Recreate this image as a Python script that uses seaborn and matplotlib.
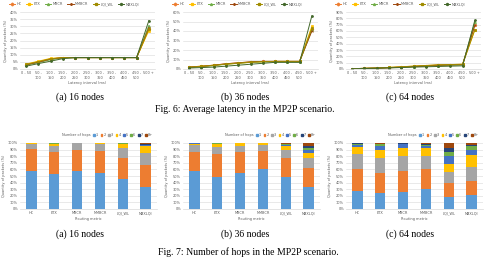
import numpy as np
import pandas as pd
import matplotlib
matplotlib.use("Agg")
import matplotlib.pyplot as plt
import seaborn as sns
from matplotlib.lines import Line2D
from matplotlib.patches import Patch

# ---------------- data ----------------
intervals = ["0 - 50", "50 -\n100", "100 -\n150", "150 -\n200", "200 -\n250",
             "250 -\n300", "300 -\n350", "350 -\n400", "400 -\n450", "450 -\n500", "500 +"]
metrics = ["HC", "ETX", "MBCR", "MMBCR", "LQI_WL", "MAXLQI"]

lat16 = {
    "HC":     [3.0, 5.0, 7.0, 8.0, 8.0, 8.0, 8.0, 8.0, 8.0, 8.0, 28.0],
    "ETX":    [3.5, 5.5, 7.5, 8.0, 8.0, 8.0, 8.0, 8.0, 8.0, 8.0, 27.0],
    "MBCR":   [2.8, 4.5, 6.5, 7.8, 8.0, 8.0, 8.0, 8.0, 8.0, 8.0, 30.5],
    "MMBCR":  [3.0, 4.8, 7.0, 8.0, 8.0, 8.0, 8.0, 8.0, 8.0, 8.0, 29.0],
    "LQI_WL": [3.2, 5.2, 7.2, 8.0, 8.0, 8.0, 8.0, 8.0, 8.0, 8.0, 28.0],
    "MAXLQI": [2.0, 3.8, 5.5, 7.3, 8.0, 8.0, 8.0, 8.0, 8.0, 8.0, 34.0],
}
lat36 = {
    "HC":     [2.0, 3.0, 4.0, 5.5, 6.5, 7.5, 8.0, 8.0, 8.0, 8.0, 42.0],
    "ETX":    [2.0, 3.0, 4.0, 5.0, 6.0, 7.0, 7.5, 8.0, 8.0, 8.0, 45.0],
    "MBCR":   [1.5, 2.5, 3.5, 5.0, 6.0, 7.0, 7.5, 7.5, 7.5, 7.5, 41.0],
    "MMBCR":  [2.0, 2.8, 4.0, 5.5, 6.5, 7.5, 8.0, 8.0, 8.0, 8.0, 40.0],
    "LQI_WL": [1.8, 2.8, 3.8, 5.2, 6.2, 7.2, 7.8, 8.0, 8.0, 8.0, 43.0],
    "MAXLQI": [1.0, 1.5, 2.0, 3.0, 4.0, 5.0, 6.0, 7.0, 7.0, 7.0, 56.0],
}
lat64 = {
    "HC":     [0.5, 1.0, 1.5, 2.0, 3.0, 4.0, 5.0, 6.0, 6.5, 7.0, 70.0],
    "ETX":    [0.5, 1.0, 1.5, 2.5, 3.5, 4.5, 5.5, 6.5, 7.0, 7.5, 62.0],
    "MBCR":   [0.5, 1.0, 1.5, 2.0, 2.5, 3.5, 4.5, 5.5, 6.0, 6.5, 74.0],
    "MMBCR":  [0.5, 1.0, 1.5, 2.0, 3.0, 4.0, 5.0, 6.0, 6.5, 7.0, 69.0],
    "LQI_WL": [0.5, 1.0, 1.5, 2.5, 3.5, 4.5, 5.5, 6.5, 7.0, 7.5, 62.0],
    "MAXLQI": [0.3, 0.8, 1.2, 1.8, 2.3, 3.0, 3.5, 4.0, 4.5, 5.0, 77.0],
}

hops = ["1", "2", "3", "4", "5", "6", "7", "8+"]
hop16 = {
    "HC":     [57, 34, 7, 1.5, 0.2, 0.1, 0.1, 0.1],
    "ETX":    [53, 34, 9, 2.5, 0.5, 0.3, 0.5, 0.2],
    "MBCR":   [57, 33, 10, 0, 0, 0, 0, 0],
    "MMBCR":  [55, 33, 10, 2, 0, 0, 0, 0],
    "LQI_WL": [45, 33, 15, 5, 1, 0.5, 0.5, 0],
    "MAXLQI": [33, 34, 18, 10, 1.5, 1, 1.5, 1],
}
hop36 = {
    "HC":     [57, 30, 10, 2, 0.5, 0.3, 0.1, 0.1],
    "ETX":    [48, 36, 10, 4, 1, 0.5, 0.3, 0.2],
    "MBCR":   [54, 32, 10, 4, 0, 0, 0, 0],
    "MMBCR":  [60, 28, 9, 3, 0, 0, 0, 0],
    "LQI_WL": [48, 30, 11, 6, 2, 1, 1, 1],
    "MAXLQI": [33, 29, 15, 8, 5, 3, 3, 4],
}
hop64 = {
    "HC":     [28, 32, 23, 11, 3, 1, 1.5, 0.5],
    "ETX":    [25, 29, 24, 12, 6, 2, 1, 1],
    "MBCR":   [26, 32, 22, 13, 5, 1, 1, 0],
    "MMBCR":  [30, 31, 20, 11, 4, 1, 2, 1],
    "LQI_WL": [18, 22, 16, 12, 12, 7, 6, 7],
    "MAXLQI": [21, 22, 21, 18, 7, 6, 2, 3],
}

line_colors = ["#ED7D31", "#FFC000", "#70AD47", "#9E480E", "#A08C00", "#43682B"]
line_markers = ["D", "s", "^", "x", "s", "o"]
hop_colors = ["#5B9BD5", "#ED7D31", "#A5A5A5", "#FFC000", "#4472C4", "#70AD47", "#264478", "#9E480E"]

# ---------------- figure ----------------
W, H = 490, 267
fig = plt.figure(figsize=(W / 100, H / 100), dpi=100)
TXT = "#595959"
GRID = "#D9D9D9"
FS = 2.5


def ax_px(l, t, r, b):
    return fig.add_axes([l / W, 1 - b / H, (r - l) / W, (b - t) / H])


def style(ax):
    sns.despine(ax=ax, left=True, top=True, right=True)
    ax.spines["bottom"].set_color(GRID)
    ax.spines["bottom"].set_linewidth(0.5)
    ax.grid(axis="y", color=GRID, linewidth=0.4)
    ax.grid(axis="x", visible=False)
    ax.set_axisbelow(True)
    ax.tick_params(length=0, labelsize=FS, colors=TXT, pad=1.5)


col_off = [0, 163, 326]
lat_sets = [(lat16, 40, 5), (lat36, 60, 10), (lat64, 90, 10)]
for off, (lat, ymax, step) in zip(col_off, lat_sets):
    ax = ax_px(20 + off, 12, 155 + off, 69)
    rows = []
    for m in metrics:
        for iv, v in zip(intervals, lat[m]):
            rows.append({"interval": iv, "value": v, "metric": m})
    df = pd.DataFrame(rows)
    sns.pointplot(data=df, x="interval", y="value", hue="metric", order=intervals,
                  hue_order=metrics, palette=line_colors, markers=line_markers,
                  errorbar=None, markersize=1.4, linewidth=0.7, legend=False, ax=ax)
    ax.set_ylim(0, ymax)
    ax.set_xlim(-0.5, len(intervals) - 0.5)
    ticks = np.arange(0, ymax + 0.1, step)
    ax.set_yticks(ticks)
    ax.set_yticklabels([f"{int(t)}%" for t in ticks])
    style(ax)
    ax.set_xlabel("Latency interval (ms)", fontsize=FS, color=TXT, labelpad=1)
    ax.set_ylabel("Quantity of packets (%)", fontsize=FS, color=TXT, labelpad=1.5)
    handles = [Line2D([0], [0], color=c, marker=mk, markersize=1.4, linewidth=0.7)
               for c, mk in zip(line_colors, line_markers)]
    ax.legend(handles, metrics, ncol=6, fontsize=FS, frameon=False,
              loc="center", bbox_to_anchor=(0.4, 1.14), handlelength=1.8,
              columnspacing=1.3, handletextpad=0.4, labelcolor=TXT)

hop_sets = [hop16, hop36, hop64]
for off, hop in zip(col_off, hop_sets):
    ax = ax_px(20 + off, 143, 157 + off, 209)
    for k in range(len(hops) - 1, -1, -1):
        cum = [sum(hop[m][:k + 1]) for m in metrics]
        sns.barplot(x=metrics, y=cum, order=metrics, color=hop_colors[k],
                    saturation=1, width=0.45, ax=ax, linewidth=0)
    ax.set_ylim(0, 100)
    ticks = np.arange(0, 101, 10)
    ax.set_yticks(ticks)
    ax.set_yticklabels([f"{int(t)}%" for t in ticks])
    style(ax)
    ax.set_xlabel("Routing metric", fontsize=FS, color=TXT, labelpad=1.5)
    ax.set_ylabel("Quantity of packets (%)", fontsize=FS, color=TXT, labelpad=1.5)
    handles = [Patch(visible=False)] + [Patch(color=c) for c in hop_colors]
    leg = ax.legend(handles, ["Number of hops"] + hops, ncol=9, fontsize=FS, frameon=False,
                    loc="center", bbox_to_anchor=(0.63, 1.12), handlelength=0.5,
                    handleheight=0.5, columnspacing=0.7, handletextpad=0.3, labelcolor=TXT)

serif = ["Liberation Serif", "DejaVu Serif"]
for cx, lab in zip([80, 245, 410], ["(a) 16 nodes", "(b) 36 nodes", "(c) 64 nodes"]):
    fig.text(cx / W, 1 - 97 / H, lab, ha="center", va="center", fontsize=7, family=serif)
    fig.text(cx / W, 1 - 234 / H, lab, ha="center", va="center", fontsize=7, family=serif)
fig.text(245 / W, 1 - 110 / H, "Fig. 6: Average latency in the MP2P scenario.",
         ha="center", va="center", fontsize=7, family=serif)
fig.text(248 / W, 1 - 252 / H, "Fig. 7: Number of hops in the MP2P scenario.",
         ha="center", va="center", fontsize=7, family=serif)

fig.savefig("out.png", dpi=100)
